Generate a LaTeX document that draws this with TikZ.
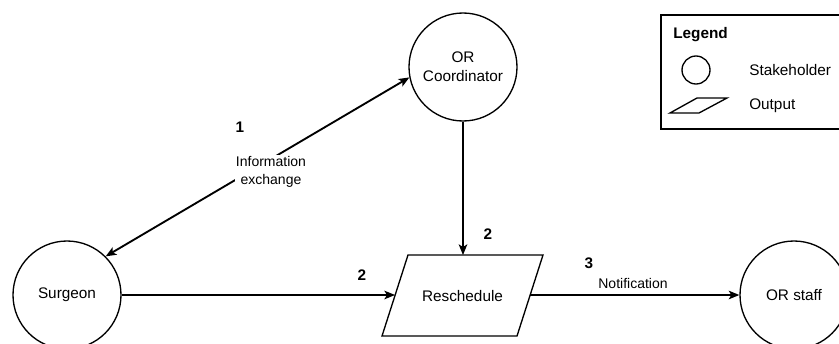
\documentclass[tikz,border=0pt]{standalone}
\usepackage{fontspec}
\setmainfont{Liberation Sans}
\usetikzlibrary{arrows.meta}
\tikzset{
  stake/.style={draw, circle, minimum size=81pt, inner sep=0pt, align=center, line width=1pt, font=\fontsize{11.5pt}{14pt}\selectfont},
  tip/.style={},
  conn/.style={line width=1pt, -{Stealth[length=8pt,width=6.5pt,inset=2pt]}},
  dconn/.style={line width=1.4pt, {Stealth[length=8pt,width=6.5pt,inset=2pt]}-{Stealth[length=8pt,width=6.5pt,inset=2pt]}},
  num/.style={font=\bfseries\fontsize{11.5pt}{14pt}\selectfont, inner sep=0pt},
  lbl/.style={font=\fontsize{10.5pt}{14pt}\selectfont, inner sep=1pt, align=center},
  txt/.style={font=\fontsize{11.5pt}{14pt}\selectfont, inner sep=0pt},
}
\begin{document}
\begin{tikzpicture}[x=0.75pt, y=-0.75pt]
\clip (0,0) rectangle (839,343);
\fill[white] (0,0) rectangle (839,343);
% stakeholders
\node[stake] (coord) at (463,67) {OR\\Coordinator};
\node[stake] (surgeon) at (67,295) {Surgeon};
\node[stake] (staff) at (794,295) {OR staff};
% output parallelogram
\coordinate (pbl) at (382,336);
\coordinate (pbr) at (517,336);
\coordinate (ptr) at (543,255);
\coordinate (ptl) at (408,255);
\draw[line width=1pt] (pbl) -- (pbr) -- (ptr) -- (ptl) -- cycle;
\node[txt] (resched) at (462.5,296) {Reschedule};
\coordinate (pleft) at (395,295);
\coordinate (ptop) at (463,255);
\coordinate (pright) at (530,295);
% connectors
\draw[dconn] (surgeon.45) -- (coord.191);
\node[lbl, fill=white] (info) at (271,172) {Information\\exchange};
\node[num] (n1) at (240,127) {1};
\draw[conn] (surgeon.east) -- (pleft);
\node[num] (n2a) at (362,275) {2};
\draw[conn] (coord.south) -- (ptop);
\node[num] (n2b) at (488,234) {2};
\draw[conn] (pright) -- (staff.west);
\node[num] (n3) at (589,263) {3};
\node[lbl] (notif) at (633,283) {Notification};
% legend
\draw[line width=1pt] (661,15) rectangle (860,129);
\node[num, anchor=west] (leg) at (673,35) {Legend};
\node[draw, circle, minimum size=21pt, inner sep=0pt, line width=1pt] (lcirc) at (696,70) {};
\node[txt, anchor=west] (lstake) at (749,70) {Stakeholder};
\draw[line width=1pt] (670,113) -- (699,113) -- (727,98) -- (697,98) -- cycle;
\node[txt, anchor=west] (lout) at (749,106) {Output};
\end{tikzpicture}
\end{document}
